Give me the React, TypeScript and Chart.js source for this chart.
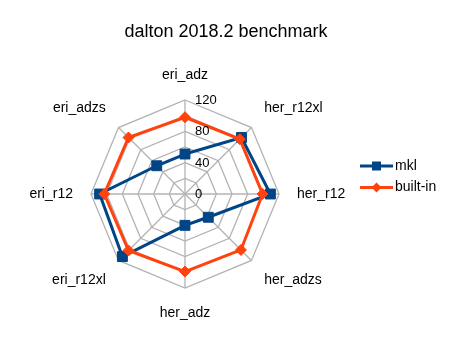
import React, { useEffect, useRef } from "react";
import { Chart, registerables } from "chart.js";

Chart.register(...registerables);

const TITLE = "dalton 2018.2 benchmark";
const categories = ["eri_adz", "her_r12xl", "her_r12", "her_adzs", "her_adz", "eri_r12xl", "eri_r12", "eri_adzs"];
const mklValues = [51, 102, 109, 42, 40, 113, 109, 51];
const builtinValues = [98, 99, 99, 101, 99, 102, 103, 102];
const tickLabels = [0, 40, 80, 120];
const seriesNames = ["mkl", "built-in"];

const BLUE = "#004586";
const ORANGE = "#ff420e";
const GRID = "#b3b3b3";
const FONT = '"Liberation Sans", Arial, sans-serif';

const textPlugin = {
  id: "customText",
  afterDraw(chart: any) {
    const ctx = chart.ctx as CanvasRenderingContext2D;
    const scale = chart.scales.r;
    ctx.save();
    ctx.fillStyle = "#000";
    // title
    ctx.font = `18px ${FONT}`;
    ctx.textAlign = "center";
    ctx.textBaseline = "alphabetic";
    ctx.fillText(TITLE, 226, 37);

    // tick labels
    ctx.font = `13px ${FONT}`;
    ctx.textAlign = "left";
    ctx.textBaseline = "middle";
    tickLabels.forEach((v) => {
      const d = scale.getDistanceFromCenterForValue(v);
      ctx.fillText(String(v), scale.xCenter + 10, scale.yCenter - d + 0.5);
    });

    // point labels
    ctx.font = `14px ${FONT}`;
    const R = scale.drawingArea + 18;
    categories.forEach((lab, i) => {
      const p = scale.getPointPosition(i, R);
      const dx = p.x - scale.xCenter;
      const dy = p.y - scale.yCenter;
      ctx.textAlign = Math.abs(dx) < 1 ? "center" : dx > 0 ? "left" : "right";
      ctx.textBaseline = Math.abs(dy) < 1 ? "middle" : dy < 0 ? "bottom" : "top";
      ctx.fillText(lab, p.x, p.y);
    });

    // legend
    const rows = [
      { name: seriesNames[0], color: BLUE, shape: "rect", y: 166 },
      { name: seriesNames[1], color: ORANGE, shape: "diamond", y: 187.5 },
    ];
    rows.forEach((r) => {
      ctx.strokeStyle = r.color;
      ctx.lineWidth = 3;
      ctx.beginPath();
      ctx.moveTo(360, r.y);
      ctx.lineTo(393, r.y);
      ctx.stroke();
      ctx.fillStyle = r.color;
      ctx.beginPath();
      if (r.shape === "rect") {
        ctx.rect(376.5 - 4.5, r.y - 4.5, 9, 9);
      } else {
        ctx.moveTo(376.5, r.y - 5);
        ctx.lineTo(381.5, r.y);
        ctx.lineTo(376.5, r.y + 5);
        ctx.lineTo(371.5, r.y);
        ctx.closePath();
      }
      ctx.fill();
      ctx.fillStyle = "#000";
      ctx.font = `14px ${FONT}`;
      ctx.textAlign = "left";
      ctx.textBaseline = "middle";
      ctx.fillText(r.name, 395, r.y);
    });
    ctx.restore();
  },
};

export default function App() {
  const ref = useRef<HTMLCanvasElement>(null);
  useEffect(() => {
    if (!ref.current) return;
    const chart = new Chart(ref.current, {
      type: "radar",
      data: {
        labels: categories,
        datasets: [
          {
            label: seriesNames[0],
            data: mklValues,
            borderColor: BLUE,
            backgroundColor: BLUE,
            borderWidth: 3,
            fill: false,
            pointStyle: "rect",
            pointRadius: 7,
            pointBorderWidth: 1,
            pointBackgroundColor: BLUE,
            pointBorderColor: BLUE,
            order: 2,
          },
          {
            label: seriesNames[1],
            data: builtinValues,
            borderColor: ORANGE,
            backgroundColor: ORANGE,
            borderWidth: 3,
            fill: false,
            pointStyle: "rectRot",
            pointRadius: 5.5,
            pointBorderWidth: 1,
            pointBackgroundColor: ORANGE,
            pointBorderColor: ORANGE,
            order: 1,
          },
        ],
      },
      options: {
        responsive: false,
        animation: false,
        layout: { padding: { left: 91, top: 100, right: 173, bottom: 65 } },
        plugins: { legend: { display: false }, title: { display: false }, tooltip: { enabled: false } },
        elements: { line: { tension: 0 } },
        scales: {
          r: {
            min: 0,
            max: 120,
            ticks: { stepSize: 20, display: false },
            grid: { color: GRID, lineWidth: 1.3 },
            angleLines: { color: GRID, lineWidth: 1.3 },
            pointLabels: { display: false },
          },
        },
      },
      plugins: [textPlugin],
    });
    return () => chart.destroy();
  }, []);
  return (
    <div style={{ position: "absolute", left: 0, top: 0, width: 452, height: 353, background: "#fff" }}>
      <canvas ref={ref} width={452} height={353} style={{ display: "block" }} />
    </div>
  );
}
